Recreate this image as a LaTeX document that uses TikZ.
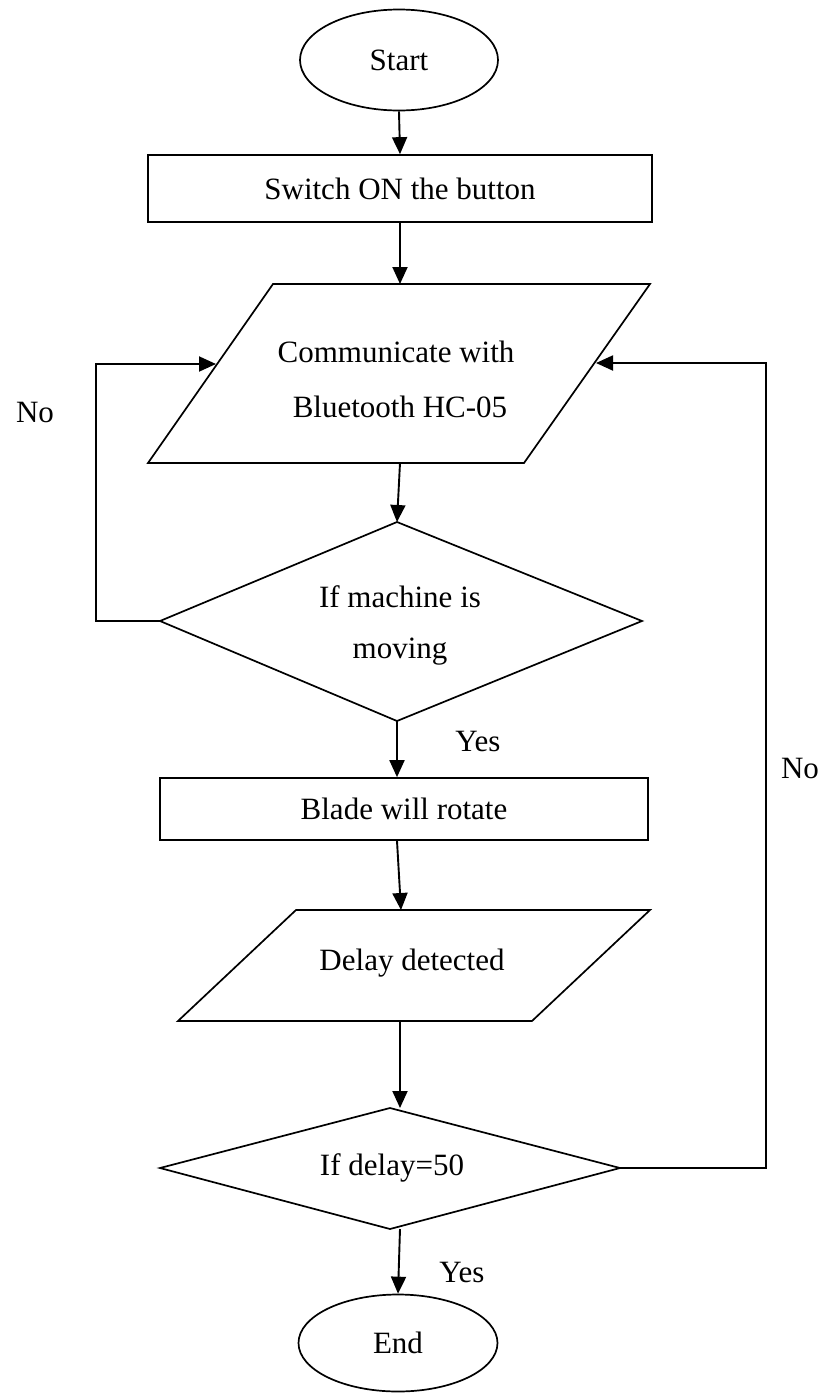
\documentclass[tikz,border=0pt]{standalone}
\usepackage{fontspec}
\setmainfont{Liberation Serif}
\usetikzlibrary{shapes.geometric,arrows.meta}
\begin{document}
\begin{tikzpicture}[x=1pt,y=-1pt,
  txt/.style={font=\fontsize{31}{36}\selectfont, inner sep=0pt},
  outline/.style={draw=black, line width=1.7pt, line join=miter},
  conn/.style={draw=black, line width=1.9pt, -{Triangle[length=17pt,width=15pt]}},
  plain/.style={draw=black, line width=1.7pt}]
\useasboundingbox (0,0) rectangle (840,1393);
\fill[white] (0,0) rectangle (840,1393);

% Start
\node[outline, ellipse, minimum width=198pt, minimum height=101pt, inner sep=0pt, txt] (start) at (399,60) {Start};
% Switch box
\node[outline, rectangle, minimum width=504pt, minimum height=67pt, inner sep=0pt, txt] (sw) at (400,188.5) {Switch ON the button};

% Parallelogram 1
\coordinate (p1a) at (273,284);
\coordinate (p1b) at (650,284);
\coordinate (p1c) at (524,463);
\coordinate (p1d) at (148,463);
\draw[outline] (p1a) -- (p1b) -- (p1c) -- (p1d) -- cycle;
\node[txt] (p1t1) at (396,352) {Communicate with};
\node[txt] (p1t2) at (400,407) {Bluetooth HC-05};
\coordinate (p1top) at (400,284);
\coordinate (p1bot) at (400,463);
\coordinate (p1left) at (216,364);
\coordinate (p1right) at (596,363);

% Diamond 1
\coordinate (d1t) at (397,522);
\coordinate (d1r) at (642,621);
\coordinate (d1b) at (397,721);
\coordinate (d1l) at (160,621);
\draw[outline] (d1t) -- (d1r) -- (d1b) -- (d1l) -- cycle;
\node[txt] (d1t1) at (400,597) {If machine is};
\node[txt] (d1t2) at (400,652) {moving};

% Blade box
\node[outline, rectangle, minimum width=488pt, minimum height=62pt, inner sep=0pt, txt] (blade) at (404,809) {Blade will rotate};

% Parallelogram 2
\coordinate (p2a) at (296,910);
\coordinate (p2b) at (650,910);
\coordinate (p2c) at (532,1021);
\coordinate (p2d) at (178,1021);
\draw[outline] (p2a) -- (p2b) -- (p2c) -- (p2d) -- cycle;
\node[txt] (p2t) at (412,963) {Delay detected};
\coordinate (p2top) at (401,910);
\coordinate (p2bot) at (400,1021);

% Diamond 2
\coordinate (d2t) at (390,1108);
\coordinate (d2r) at (620,1168);
\coordinate (d2b) at (390,1229);
\coordinate (d2l) at (160,1168);
\draw[outline] (d2t) -- (d2r) -- (d2b) -- (d2l) -- cycle;
\node[txt] (d2txt) at (392,1168) {If delay=50};

% End
\node[outline, ellipse, minimum width=199pt, minimum height=97pt, inner sep=0pt, txt] (end) at (398,1343) {End};

% Connectors
\draw[conn] (start.south) -- (sw.north);
\draw[conn] (sw.south) -- (p1top);
\draw[conn] (p1bot) -- (d1t);
\draw[conn] (d1b) -- (blade.north -| d1b);
\draw[conn] (blade.south -| d1b) -- (p2top);
\draw[conn] (p2bot) -- (d2t -| p2bot);
\draw[conn] (d2b -| p2bot) -- (end.north);

% Loops
\draw[conn] (d1l) -- (96,621) -- (96,364) -- (p1left);
\draw[conn] (d2r) -- (766,1168) -- (766,363) -- (p1right);

% Labels
\node[txt] (yes1) at (478,741) {Yes};
\node[txt] (yes2) at (462,1272) {Yes};
\node[txt] (no1) at (35,412) {No};
\node[txt] (no2) at (800,768) {No};
\end{tikzpicture}
\end{document}
